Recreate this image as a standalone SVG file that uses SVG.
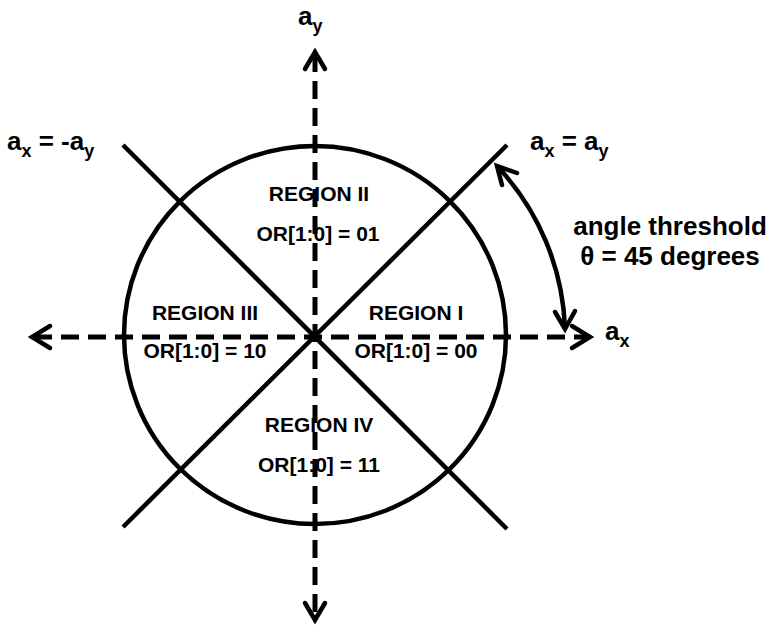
<svg xmlns="http://www.w3.org/2000/svg" width="775" height="634" viewBox="0 0 775 634">
<style>
.t{font-family:"Liberation Sans",Arial,sans-serif;font-weight:bold;fill:#000}
.big{font-size:26px}
.reg{font-size:21px;text-anchor:middle}
.sub{font-size:18px}
.solid{fill:none;stroke:#000;stroke-width:4.5}
.dash{fill:none;stroke:#000;stroke-width:5;stroke-dasharray:18 9}
.head{fill:none;stroke:#000;stroke-width:4.5;stroke-linecap:round;stroke-linejoin:miter}
</style>
<rect width="775" height="634" fill="#fff"/>
<g id="circle"><ellipse class="solid" cx="315" cy="335" rx="191" ry="189"/></g>
<g id="connectors">
<line class="solid" x1="123" y1="145" x2="507" y2="529"/>
<line class="solid" x1="123" y1="527" x2="507" y2="145"/>
<line class="dash" x1="315" y1="54" x2="315" y2="618"/>
<line class="dash" x1="34" y1="337" x2="588" y2="337"/>
<polyline class="head" points="305,69 315,52 325,69"/>
<polyline class="head" points="305,603 315,620 325,603"/>
<polyline class="head" points="50,326 32,337 50,348"/>
<polyline class="head" points="572,326 590,337 572,348"/>
<path class="solid" d="M 497 166 A 250 250 0 0 1 565 328"/>
<polyline class="head" points="517,173 497,166 502,185"/>
<polyline class="head" points="555,312 565,329 575,311"/>
</g>
<g id="label-ay"><text class="t big" x="298" y="25">a<tspan class="sub" dy="7">y</tspan></text></g>
<g id="label-ax"><text class="t big" x="605" y="340">a<tspan class="sub" dy="7">x</tspan></text></g>
<g id="label-neg"><text class="t big" x="7" y="150">a<tspan class="sub" dy="7">x</tspan><tspan dy="-7"> = -a</tspan><tspan class="sub" dy="7">y</tspan></text></g>
<g id="label-pos"><text class="t big" x="530" y="150">a<tspan class="sub" dy="7">x</tspan><tspan dy="-7"> = a</tspan><tspan class="sub" dy="7">y</tspan></text></g>
<g id="threshold">
<text class="t big" x="670" y="235" text-anchor="middle">angle threshold</text>
<text class="t big" x="670" y="265" text-anchor="middle">θ = 45 degrees</text>
</g>
<g id="region1"><text class="t reg" x="416" y="320">REGION I</text><text class="t reg" x="416" y="358">OR[1:0] = 00</text></g>
<g id="region2"><text class="t reg" x="319" y="201">REGION II</text><text class="t reg" x="318" y="241">OR[1:0] = 01</text></g>
<g id="region3"><text class="t reg" x="205" y="320">REGION III</text><text class="t reg" x="205" y="358">OR[1:0] = 10</text></g>
<g id="region4"><text class="t reg" x="319" y="432">REGION IV</text><text class="t reg" x="319" y="472">OR[1:0] = 11</text></g>
</svg>
